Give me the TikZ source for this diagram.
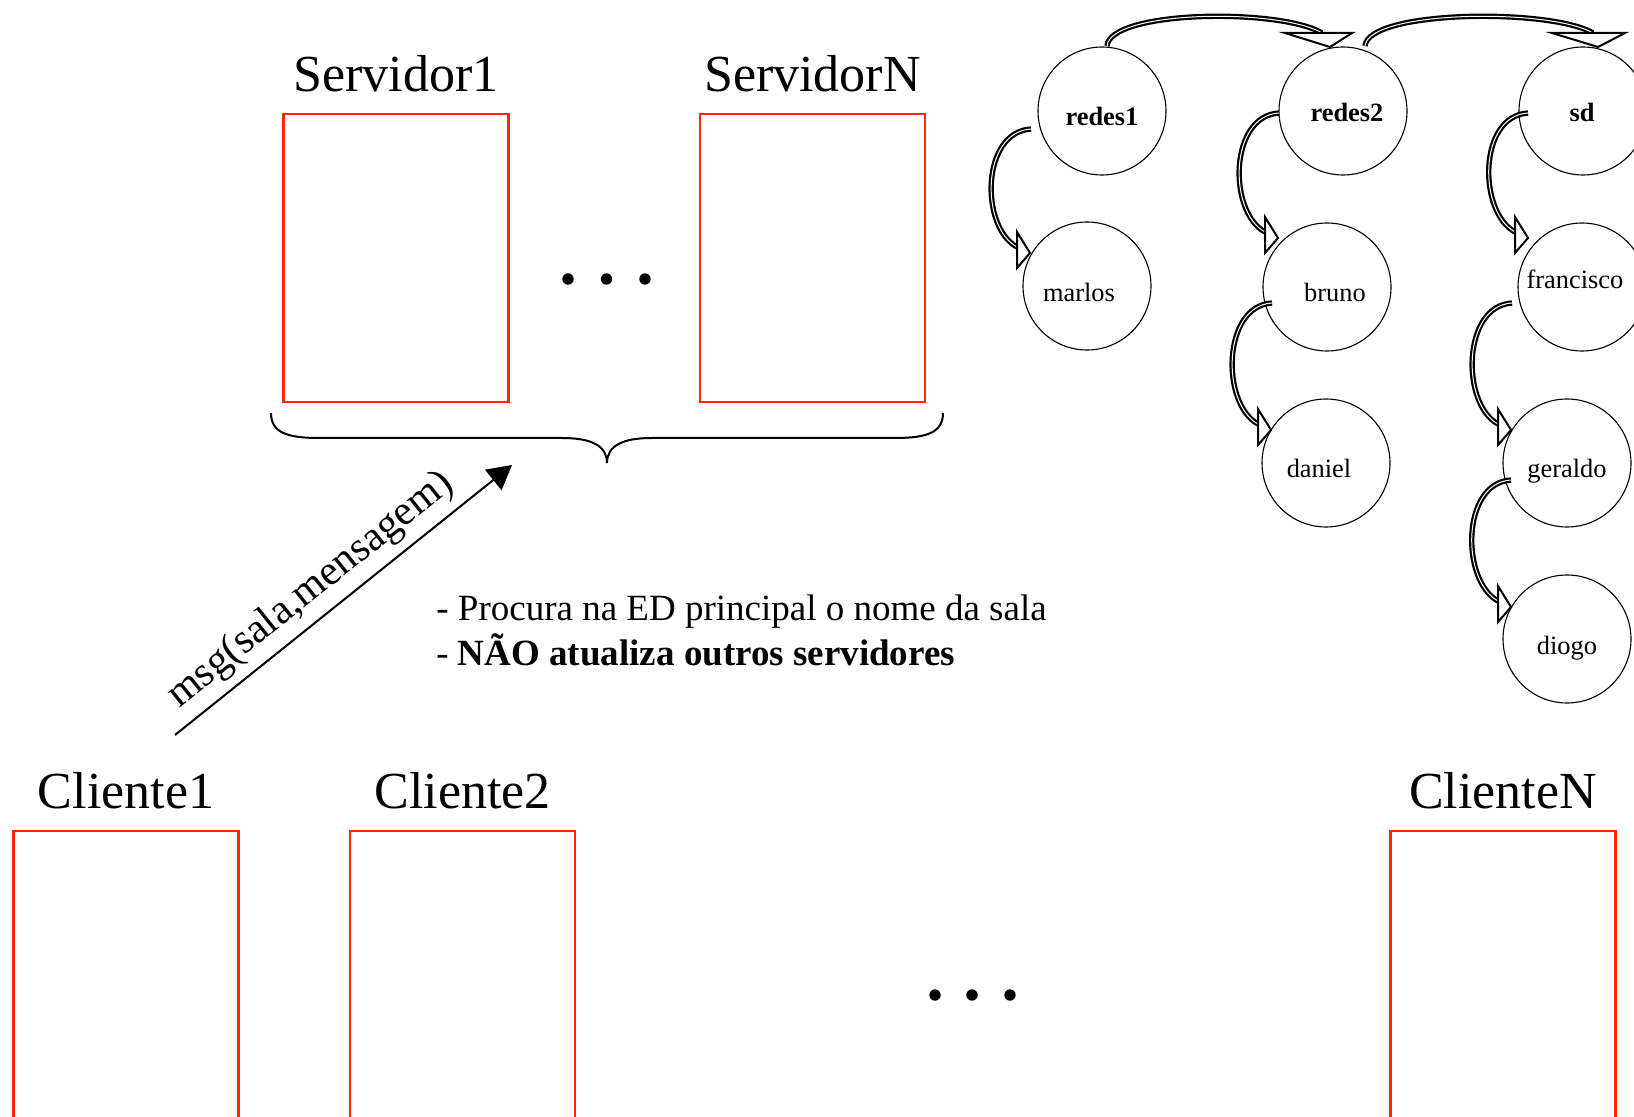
\documentclass[tikz,border=0pt]{standalone}
\usepackage{fontspec}
\setmainfont{Liberation Serif}
\usetikzlibrary{arrows.meta,calc}
\definecolor{boxred}{RGB}{255,40,0}
\begin{document}
\begin{tikzpicture}[x=0.5pt,y=-0.5pt,
  redbox/.style={draw=boxred, line width=1.4pt, minimum width=112.5pt, minimum height=144pt, inner sep=0pt},
  biglabel/.style={font=\fontsize{26}{30}\selectfont, anchor=base, inner sep=0pt},
  circ/.style={draw, circle, line width=0.55pt, minimum size=64pt, inner sep=0pt},
  ctext/.style={font=\fontsize{13.2}{15}\selectfont, anchor=base, inner sep=0pt},
  link/.style={draw, line width=1.1pt, double=white, double distance=0.5pt},
  tiphead/.style={draw, line width=1pt, fill=white, line join=miter},
  bodytext/.style={font=\fontsize{18.5}{22}\selectfont, anchor=base west, inner sep=0pt}
]
\useasboundingbox (0,0) rectangle (1634,1117);

% servers
\node[redbox] (s1) at (396,258) {};
\node[redbox] (sN) at (812.5,258) {};
\node[biglabel] (s1l) at (396,92) {Servidor1};
\node[biglabel] (sNl) at (812.5,92) {ServidorN};
\fill (568,279) circle (2.85pt) (606.5,279) circle (2.85pt) (645,279) circle (2.85pt);

% brace
\draw[line width=1pt] (271,413) .. controls (271,432) and (286,438) .. (319,438) -- (562,438)
  .. controls (592,438) and (607,446) .. (607,463)
  .. controls (607,446) and (622,438) .. (652,438) -- (895,438)
  .. controls (928,438) and (943,432) .. (943,413);

% message arrow
\coordinate (mA) at (175,735);
\coordinate (mB) at (512,465);
\draw[line width=1pt, -{Triangle[length=12pt,width=13pt]}] (mA) -- (mB);
\node[font=\fontsize{21}{25}\selectfont, anchor=base, rotate=38.7, inner sep=0pt] (msgl) at (317,598) {msg(sala,mensagem)};

% text
\node[bodytext] (t1) at (436,620) {- Procura na ED principal o nome da sala};
\node[bodytext] (t2) at (436,665) {- \textbf{NÃO atualiza outros servidores}};

% clients
\node[redbox] (c1) at (126,975) {};
\node[redbox] (c2) at (462.5,975) {};
\node[redbox] (cN) at (1503,975) {};
\node[biglabel] (c1l) at (126,808) {Cliente1};
\node[biglabel] (c2l) at (462.5,808) {Cliente2};
\node[biglabel] (cNl) at (1503,808) {ClienteN};
\fill (935,995) circle (2.85pt) (972,995) circle (2.85pt) (1010,995) circle (2.85pt);

% tree
\node[circ] (redes1) at (1102,111) {};
\node[circ] (redes2) at (1343,111) {};
\node[circ] (sd) at (1583,111) {};
\node[circ] (marlos) at (1087,286) {};
\node[circ] (bruno) at (1327,287) {};
\node[circ] (francisco) at (1582,287) {};
\node[circ] (daniel) at (1326,463) {};
\node[circ] (geraldo) at (1567,463) {};
\node[circ] (diogo) at (1567,639) {};
\node[ctext] (redes1t) at (1102,126) {\textbf{redes1}};
\node[ctext] (redes2t) at (1347,122) {\textbf{redes2}};
\node[ctext] (sdt) at (1582,122) {\textbf{sd}};
\node[ctext] (marlost) at (1079,302) {marlos};
\node[ctext] (brunot) at (1335,302) {bruno};
\node[ctext] (franciscot) at (1575,289) {francisco};
\node[ctext] (danielt) at (1319,478) {daniel};
\node[ctext] (geraldot) at (1567,478) {geraldo};
\node[ctext] (diogot) at (1567,654) {diogo};

% top arrows
\coordinate (h1s) at ($(redes1.center)+(5,-65)$);
\coordinate (h1t) at ($(redes2.center)+(-13,-64)$);
\draw[link] (h1s) .. controls +(3,-36) and +(-42,-25) .. ($(h1t)+(-8,-14)$);
\draw[tiphead] ($(h1t)+(-45,-14)$) -- (h1t) -- ($(h1t)+(22,-14)$) -- cycle;

\coordinate (h2s) at ($(redes2.center)+(22,-65)$);
\coordinate (h2t) at ($(sd.center)+(15,-64)$);
\draw[link] (h2s) .. controls +(3,-36) and +(-43,-25) .. ($(h2t)+(-5,-14)$);
\draw[tiphead] ($(h2t)+(-46,-14)$) -- (h2t) -- ($(h2t)+(27,-14)$) -- cycle;

% vertical arrows
\coordinate (v1s) at ($(redes1.center)+(-71,18)$);
\coordinate (v1t) at ($(marlos.center)+(-57,-33)$);
\coordinate (v2s) at ($(redes2.center)+(-64,2)$);
\coordinate (v2t) at ($(bruno.center)+(-49,-49)$);
\coordinate (v3s) at ($(sd.center)+(-55,2)$);
\coordinate (v3t) at ($(francisco.center)+(-54,-49)$);
\coordinate (v4s) at ($(bruno.center)+(-55,16)$);
\coordinate (v4t) at ($(daniel.center)+(-55,-33)$);
\coordinate (v5s) at ($(francisco.center)+(-70,16)$);
\coordinate (v5t) at ($(geraldo.center)+(-56,-33)$);
\coordinate (v6s) at ($(geraldo.center)+(-56,17)$);
\coordinate (v6t) at ($(diogo.center)+(-56,-32)$);
\foreach \i in {1,...,6}{
  \draw[link] (v\i s) .. controls +(-50,3) and +(-37,-20) .. ($(v\i t)+(-13,-6)$);
  \draw[tiphead] ($(v\i t)+(-13,-21)$) -- (v\i t) -- ($(v\i t)+(-13,15)$) -- cycle;
}
\end{tikzpicture}
\end{document}
